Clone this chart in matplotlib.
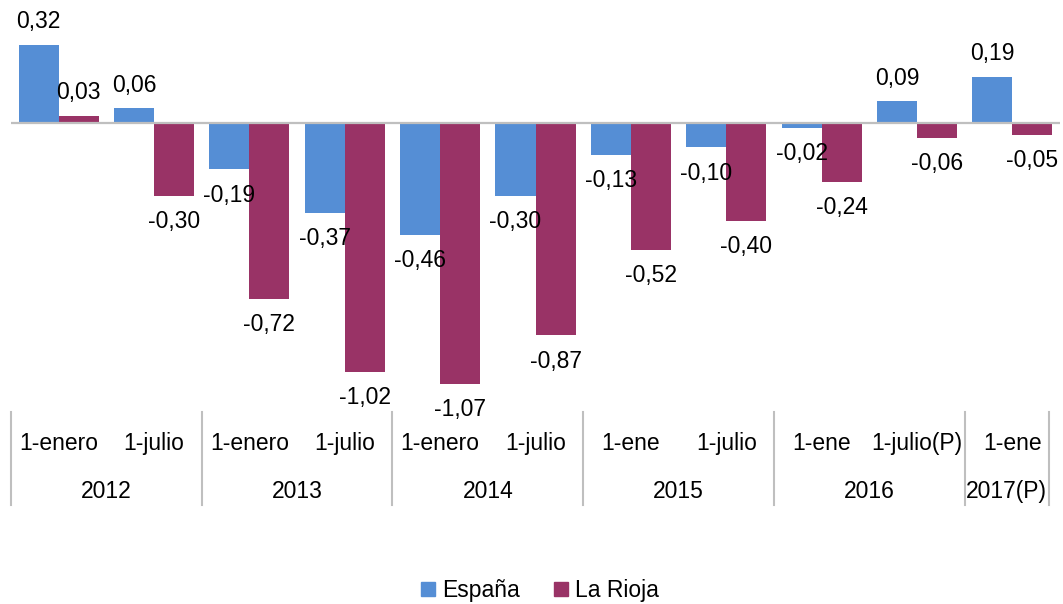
import numpy as np
import matplotlib.pyplot as plt
from matplotlib.transforms import blended_transform_factory
from matplotlib.patches import Patch

plt.rcParams['font.family'] = ['Liberation Sans', 'DejaVu Sans']
plt.rcParams['font.size'] = 16.5

# data
periods = ['1-enero', '1-julio', '1-enero', '1-julio', '1-enero', '1-julio',
           '1-ene', '1-julio', '1-ene', '1-julio(P)', '1-ene']
years = ['2012', '2013', '2014', '2015', '2016', '2017(P)']
year_spans = [2, 2, 2, 2, 2, 1]
espana = [0.32, 0.06, -0.19, -0.37, -0.46, -0.30, -0.13, -0.10, -0.02, 0.09, 0.19]
rioja = [0.03, -0.30, -0.72, -1.02, -1.07, -0.87, -0.52, -0.40, -0.24, -0.06, -0.05]

blue = '#558ED5'
maroon = '#993366'

fig = plt.figure(figsize=(10.63, 6.04), dpi=100)
ax = fig.add_axes([0.0103, 0.0, 0.987, 1.0])

x = np.arange(len(periods))
w = 0.42
b1 = ax.bar(x - w / 2, espana, w, color=blue, edgecolor='none')
b2 = ax.bar(x + w / 2, rioja, w, color=maroon, edgecolor='none')

ax.axhline(0, color='#BFBFBF', lw=1.6, zorder=3)

def lab(v):
    return f'{v:.2f}'.replace('.', ',')

for bars, vals in ((b1, espana), (b2, rioja)):
    for r, v in zip(bars, vals):
        off = 16.5 if v >= 0 else -18.5
        ax.annotate(lab(v), (r.get_x() + r.get_width() / 2, v),
                    xytext=(0, off), textcoords='offset points',
                    ha='center', va='center')

ax.set_xlim(-0.5, len(periods) - 0.5)
ax.set_ylim(-1.971, 0.504)
ax.axis('off')

# two-level category axis
tr = blended_transform_factory(ax.transData, fig.transFigure)
for i, p in enumerate(periods):
    ax.text(i, 0.265, p, transform=tr, ha='center', va='center')

edges = np.concatenate([[0], np.cumsum(year_spans)]) - 0.5
edges[-1] = edges[-1] - 0.12
for e in edges:
    ax.plot([e, e], [0.164, 0.318], transform=tr, color='#BFBFBF', lw=1.5,
            clip_on=False)
for y, a, b in zip(years, edges[:-1], edges[1:]):
    ax.text((a + b) / 2, 0.187, y, transform=tr, ha='center', va='center')

handles = [Patch(color=blue, label='España'), Patch(color=maroon, label='La Rioja')]
fig.legend(handles=handles, loc='center', bbox_to_anchor=(0.508, 0.022), ncol=2,
           frameon=False, handlelength=0.6, handleheight=0.6, handletextpad=0.3,
           columnspacing=1.5, fontsize=16.5)

fig.savefig('out.png', dpi=100)
